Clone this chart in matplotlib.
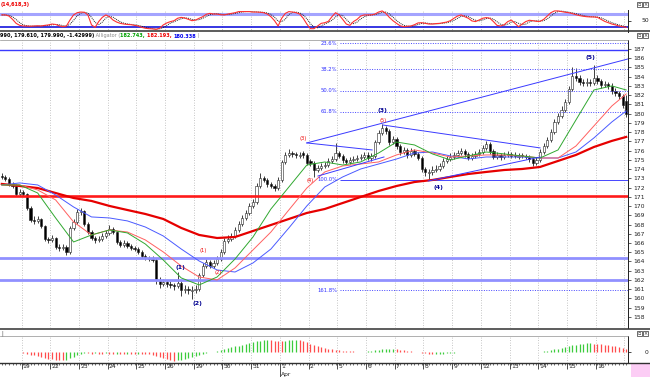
import numpy as np
import pandas as pd
import matplotlib
matplotlib.use("Agg")
import matplotlib.pyplot as plt
from matplotlib.patches import Rectangle
from matplotlib.lines import Line2D

W, H = 650, 377

# --- candles (8 per day) ---
opens = [173.30, 173.15, 172.93, 172.39, 172.17, 171.30, 171.52, 171.30, 169.79, 168.49,
         168.38, 168.60, 167.84, 166.44, 166.33, 166.54, 165.57, 165.46, 165.57, 165.03,
         167.62, 168.27, 169.36, 169.47, 168.06, 167.19, 166.54, 166.33, 166.44, 166.76,
         167.09, 167.52, 167.19, 166.11, 165.79, 166.00, 165.68, 165.46, 165.35, 165.03,
         164.60, 164.38, 164.27, 164.16, 162.00, 161.57, 161.78, 161.57, 161.46, 161.35,
         161.68, 160.92, 161.03, 160.80, 160.92, 161.03, 162.54, 163.51, 163.95, 163.51,
         163.84, 164.27, 165.03, 166.22, 166.44, 166.76, 167.41, 168.06, 168.71, 169.25,
         170.01, 170.44, 172.17, 173.04, 172.82, 172.39, 172.17, 171.95, 172.82, 174.77,
         175.53, 175.74, 175.64, 175.40, 175.70, 175.53, 174.85, 174.66, 173.90, 174.12,
         174.34, 174.45, 174.88, 175.09, 175.74, 175.42, 174.99, 174.77, 174.99, 175.09,
         175.20, 175.31, 175.53, 175.20, 175.42, 176.93, 177.91, 178.45, 178.12, 176.93,
         177.26, 176.50, 175.85, 176.07, 175.53, 175.96, 175.64, 175.20, 174.01, 173.55,
         173.69, 173.90, 174.01, 174.34, 174.88, 175.09, 175.31, 175.53, 175.74, 175.96,
         175.64, 175.20, 175.42, 175.64, 175.85, 176.28, 176.72, 175.96, 175.31, 175.53,
         175.31, 175.53, 175.64, 175.55, 175.30, 175.50, 175.42, 175.31, 175.09, 174.66,
         174.99, 175.85, 176.50, 177.15, 178.02, 179.10, 179.75, 180.40, 181.26, 182.67,
         184.08, 183.86, 183.43, 183.32, 183.43, 183.32, 183.86, 183.54, 183.10, 183.21,
         183.00, 182.46, 182.24, 181.91, 181.42]
highs = [173.55, 173.40, 173.10, 172.60, 172.35, 171.85, 171.75, 171.45, 169.95, 168.95,
         168.95, 168.75, 168.00, 166.70, 166.90, 166.70, 165.85, 165.90, 165.75, 167.85,
         168.55, 169.70, 169.80, 169.60, 168.25, 167.40, 166.80, 166.75, 167.10, 167.45,
         167.90, 167.75, 167.35, 166.35, 166.30, 166.25, 165.90, 165.70, 165.55, 165.25,
         164.85, 164.60, 164.55, 164.35, 162.30, 162.15, 162.00, 161.85, 161.70, 162.90,
         161.90, 161.40, 161.30, 161.35, 161.45, 162.80, 163.80, 164.30, 164.20, 164.15,
         164.60, 165.35, 166.50, 166.85, 167.10, 167.75, 168.40, 169.05, 169.60, 170.35,
         170.80, 172.45, 173.60, 173.30, 173.05, 172.65, 172.40, 173.10, 175.00, 175.85,
         176.20, 176.00, 175.90, 175.85, 175.95, 175.75, 175.10, 174.85, 174.45, 174.65,
         174.80, 175.20, 175.45, 176.80, 176.00, 175.65, 175.20, 175.30, 175.40, 175.55,
         175.65, 175.90, 175.80, 175.75, 177.20, 178.20, 178.85, 178.70, 178.30, 177.60,
         177.45, 176.70, 176.40, 176.30, 176.30, 176.20, 175.85, 175.40, 174.25, 174.00,
         174.30, 174.40, 174.70, 175.20, 175.45, 175.70, 175.90, 176.10, 176.30, 176.20,
         175.85, 175.75, 176.00, 176.20, 176.60, 177.05, 176.95, 176.20, 175.90, 175.75,
         175.85, 176.00, 175.90, 175.80, 175.70, 175.75, 175.65, 175.50, 175.30, 175.30,
         176.15, 176.85, 177.45, 178.35, 179.45, 180.10, 180.80, 181.60, 183.00, 185.05,
         184.90, 184.15, 183.75, 183.85, 183.80, 185.30, 184.20, 183.80, 183.55, 183.45,
         183.30, 182.75, 182.50, 182.10, 181.99]
lows = [172.95, 172.70, 172.20, 171.95, 171.05, 171.10, 171.05, 169.55, 168.25, 168.10,
        168.20, 167.60, 166.20, 166.05, 166.10, 165.35, 165.15, 165.25, 164.70, 164.85,
        167.45, 168.10, 169.05, 167.85, 166.95, 166.30, 166.05, 166.10, 166.20, 166.55,
        166.90, 166.95, 165.85, 165.55, 165.60, 165.45, 165.25, 165.10, 164.80, 164.40,
        164.15, 164.05, 163.95, 161.60, 161.10, 161.30, 161.20, 161.10, 160.95, 161.10,
        160.30, 160.60, 160.50, 159.95, 160.55, 160.85, 162.30, 163.25, 163.25, 163.30,
        163.60, 164.05, 164.85, 165.95, 166.20, 166.55, 167.20, 167.85, 168.50, 169.05,
        169.80, 170.25, 171.95, 172.55, 172.10, 171.90, 171.65, 171.75, 172.65, 174.55,
        175.30, 175.35, 175.25, 175.15, 175.25, 174.40, 174.35, 173.10, 173.65, 173.90,
        174.10, 174.20, 174.65, 174.85, 175.15, 174.70, 174.50, 174.55, 174.75, 174.85,
        174.95, 175.05, 174.95, 174.90, 175.20, 176.70, 177.70, 177.85, 176.60, 176.70,
        176.20, 175.55, 175.60, 175.25, 175.30, 175.40, 174.95, 173.70, 173.30, 172.90,
        173.40, 173.65, 173.80, 174.10, 174.65, 174.85, 175.05, 175.30, 175.50, 175.35,
        174.95, 174.95, 175.20, 175.40, 175.60, 176.05, 175.65, 175.05, 175.05, 175.00,
        175.05, 175.30, 175.15, 175.15, 175.05, 175.15, 175.05, 174.80, 174.30, 174.45,
        174.75, 175.60, 176.30, 176.95, 177.80, 178.85, 179.50, 180.15, 181.00, 182.40,
        183.55, 183.10, 182.95, 183.00, 183.00, 183.05, 183.25, 182.75, 182.85, 182.65,
        182.15, 181.90, 181.55, 180.65, 179.61]
closes = [173.15, 172.93, 172.39, 172.17, 171.30, 171.52, 171.30, 169.79, 168.49, 168.38,
          168.60, 167.84, 166.44, 166.33, 166.54, 165.57, 165.46, 165.57, 165.03, 167.62,
          168.27, 169.36, 169.47, 168.06, 167.19, 166.54, 166.33, 166.44, 166.76, 167.09,
          167.52, 167.19, 166.11, 165.79, 166.00, 165.68, 165.46, 165.35, 165.03, 164.60,
          164.38, 164.27, 164.16, 162.00, 161.57, 161.78, 161.57, 161.46, 161.35, 161.68,
          160.92, 161.03, 160.92, 160.92, 161.03, 162.54, 163.51, 163.95, 163.51, 163.84,
          164.27, 165.03, 166.22, 166.44, 166.76, 167.41, 168.06, 168.71, 169.25, 170.01,
          170.44, 172.17, 173.04, 172.82, 172.39, 172.17, 171.95, 172.82, 174.77, 175.53,
          175.74, 175.64, 175.53, 175.53, 175.53, 174.66, 174.66, 173.90, 174.12, 174.34,
          174.45, 174.88, 175.09, 175.74, 175.42, 174.99, 174.77, 174.99, 175.09, 175.20,
          175.31, 175.53, 175.20, 175.42, 176.93, 177.91, 178.45, 178.12, 176.93, 177.26,
          176.50, 175.85, 176.07, 175.53, 175.96, 175.64, 175.20, 174.01, 173.69, 173.69,
          173.90, 174.01, 174.34, 174.88, 175.09, 175.31, 175.53, 175.74, 175.96, 175.64,
          175.20, 175.42, 175.64, 175.85, 176.28, 176.72, 175.96, 175.31, 175.53, 175.31,
          175.53, 175.64, 175.42, 175.42, 175.42, 175.42, 175.31, 175.09, 174.66, 174.99,
          175.85, 176.50, 177.15, 178.02, 179.10, 179.75, 180.40, 181.26, 182.67, 184.08,
          183.86, 183.43, 183.32, 183.43, 183.32, 183.86, 183.54, 183.10, 183.21, 183.00,
          182.46, 182.24, 181.91, 180.94, 179.99]

# --- moving averages, read every 5 candles ---
ma_idx = list(range(0, 171, 5)) + [174]
lips = [172.28, 172.28, 171.41, 168.71, 166.11, 166.87, 167.41, 167.09, 165.89, 164.16,
        162.22, 161.46, 162.32, 164.27, 166.65, 169.68, 172.06, 174.44, 174.77, 174.44,
        174.77, 175.74, 176.93, 176.61, 175.64, 174.99, 175.42, 175.85, 175.64, 175.42,
        175.20, 176.07, 179.32, 182.56, 183.00, 182.56]
teeth = [172.28, 172.28, 171.74, 170.66, 168.28, 166.87, 167.41, 167.19, 166.33, 165.03,
         163.51, 162.32, 162.00, 163.30, 165.25, 167.19, 169.58, 171.95, 173.69, 174.34,
         174.55, 174.77, 175.53, 176.07, 175.74, 175.31, 175.42, 175.53, 175.53, 175.42,
         175.20, 175.20, 176.50, 178.67, 180.83, 182.13]
jaw = [172.28, 172.50, 172.28, 171.20, 169.90, 168.82, 168.71, 168.39, 167.73, 166.76,
       165.35, 164.05, 163.08, 162.86, 163.84, 165.35, 167.63, 170.01, 172.06, 173.15,
       174.01, 174.55, 175.09, 175.74, 175.85, 175.42, 175.09, 175.31, 175.31, 175.31,
       175.20, 175.20, 175.85, 177.37, 179.10, 180.29]
ma_long = [172.39, 172.17, 171.95, 171.41, 170.87, 170.55, 170.01, 169.57, 169.14, 168.60,
           167.63, 166.87, 166.54, 166.65, 167.30, 167.95, 168.60, 169.25, 169.68, 170.33,
           170.98, 171.63, 172.17, 172.60, 172.82, 173.15, 173.47, 173.69, 173.90, 174.01,
           174.23, 174.88, 175.53, 176.39, 177.05, 177.48]

# --- stochastic (top) and histogram (bottom) ---
stoch_k = [76, 76, 71, 56, 38, 29, 26, 26, 25, 26,
           27, 26, 29, 31, 35, 33, 27, 23, 26, 53,
           76, 86, 89, 88, 76, 31, 20, 46, 65, 76,
           68, 53, 44, 38, 35, 33, 32, 29, 26, 20,
           16, 14, 13, 11, 16, 31, 40, 46, 50, 61,
           65, 62, 56, 50, 53, 61, 68, 79, 83, 80,
           80, 77, 76, 80, 83, 86, 91, 91, 91, 91,
           89, 89, 88, 86, 80, 68, 50, 26, 61, 83,
           91, 89, 86, 80, 61, 35, 14, 14, 26, 38,
           41, 47, 68, 86, 76, 56, 35, 29, 46, 56,
           71, 76, 76, 76, 80, 89, 94, 83, 65, 50,
           38, 27, 23, 25, 26, 32, 40, 41, 38, 35,
           35, 37, 38, 41, 44, 50, 61, 71, 76, 68,
           61, 49, 46, 53, 61, 64, 61, 46, 29, 26,
           32, 46, 53, 38, 23, 35, 46, 52, 50, 47,
           47, 56, 71, 86, 94, 94, 91, 88, 86, 82,
           77, 73, 70, 68, 67, 67, 65, 56, 47, 41,
           35, 31, 26, 23, 20]
ao = [0.5, 0.6, 0.6, 0.5, 0.3, 0.1, -0.8, -1.5, -2.3, -3.2,
      -4.0, -5.0, -5.8, -6.5, -7.2, -7.6, -7.9, -8.1, -7.5, -6.2,
      -4.6, -3.0, -1.5, -1.0, -1.2, -1.3, -1.1, -1.3, -1.4, -1.2,
      -1.4, -1.5, -1.3, -1.5, -1.6, -1.4, -1.6, -1.7, -1.6, -1.8,
      -1.9, -2.0, -2.5, -3.3, -4.5, -5.6, -6.7, -7.8, -8.4, -8.2,
      -7.6, -6.8, -5.9, -5.0, -4.0, -2.9, -2.0, -1.0, -0.2, 0.5,
      1.2, 2.0, 3.0, 4.0, 5.0, 5.8, 6.6, 7.4, 8.3, 9.1,
      10.0, 10.8, 11.4, 11.9, 12.2, 11.8, 11.4, 11.1, 11.0, 11.5,
      11.9, 12.2, 12.3, 11.8, 10.8, 9.8, 8.6, 7.5, 6.3, 5.2,
      4.2, 3.3, 2.8, 2.4, 2.0, 1.7, 1.4, 1.1, 0.9, 0.6,
      0.4, 0.7, 1.1, 1.5, 2.0, 2.4, 2.8, 3.1, 3.4, 3.6,
      3.3, 2.7, 2.0, 1.4, 0.8, 0.3, -0.2, -0.6, -1.2, -1.6,
      -1.9, -1.7, -1.5, -1.3, -1.0, -0.7, -0.4, -0.2, 0.2, 0.4,
      0.3, 0.2, 0.4, 0.5, 0.6, 0.7, 0.6, 0.4, 0.3, 0.2,
      0.1, 0.2, 0.1, 0.0, 0.1, 0.2, 0.1, 0.0, -0.2, 0.1,
      0.5, 1.0, 1.5, 2.1, 2.8, 3.6, 4.5, 5.4, 6.3, 7.0,
      7.7, 8.2, 8.6, 8.8, 8.9, 8.6, 8.4, 8.0, 7.6, 7.2,
      6.7, 6.2, 5.5, 4.6, 3.5]

day_labels = ["19", "22", "23", "24", "25", "26", "29", "30", "31", "1", "2",
              "5", "6", "7", "8", "9", "12", "13", "14", "15", "16"]
first_day = 5.5      # index of first day boundary
per_day = 8
month_label = "Apr"
month_day = 9        # position of "1" in day_labels

# levels drawn on the chart
blue_top = 186.84
red_level = 171.10
support_levels = [164.33, 161.97]
fib_high, fib_low = 192.17, 172.82
fib_levels = [0.236, 0.382, 0.5, 0.618, 1.0, 1.618]
fib_names = ["23.6%", "38.2%", "50.0%", "61.8%", "100.0%", "161.8%"]
fib_start = 94.2
trend_lines = [[(85.0, 176.83), (174.5, 185.92)],
               [(85.0, 176.83), (103.2, 176.07)],
               [(88.1, 173.25), (106.5, 175.31)],
               [(106.2, 178.77), (150.0, 176.29)],
               [(118.8, 172.71), (150.0, 175.31)]]
waves_blue = [("(1)", 49.7, 163.3), ("(2)", 54.4, 159.5), ("(3)", 106.2, 180.3),
              ("(4)", 121.6, 172.06), ("(5)", 163.9, 186.13)]
waves_red = [("(1)", 56.1, 165.14), ("(2)", 60.2, 162.86), ("(3)", 83.9, 177.26),
             ("(4)", 86.0, 172.71), ("(5)", 106.2, 179.21)]

N = len(closes)
x = np.arange(N)


def rect(x0, y0, x1, y1):
    return [x0 / W, 1 - y1 / H, (x1 - x0) / W, (y1 - y0) / H]


def fx(px):
    return px / W


def fy(py):
    return 1 - py / H


def day_grid(ax):
    for k in range(len(day_labels) + 1):
        ax.axvline(first_day + per_day * k, color='#b4b4b4', lw=0.6,
                   ls=(0, (1, 2)), zorder=0)


def clean(ax):
    ax.set_xlim(-0.5, N - 0.5)
    ax.set_xticks([])
    for s in ['left', 'top', 'bottom']:
        ax.spines[s].set_visible(False)
    ax.spines['right'].set_color('#202020')
    ax.spines['right'].set_linewidth(0.7)


fig = plt.figure(figsize=(W / 100, H / 100), dpi=100)
fig.patch.set_facecolor('white')

# ===== stochastic panel =====
ax_o = fig.add_axes(rect(0, 9.6, 628, 31.8))
clean(ax_o)
ax_o.set_ylim(0, 100)
day_grid(ax_o)
ax_o.axhline(80, color='#a4a4ff', lw=2.2)
ax_o.axhline(20, color='#1414dd', lw=1.2)
stoch_d = pd.Series(stoch_k).rolling(3, min_periods=1).mean()
ax_o.plot(x, stoch_d, color='#202020', lw=0.7, ls=(0, (1, 1)))
ax_o.plot(x, stoch_k, color='#ff3030', lw=0.8)
ax_o.yaxis.tick_right()
ax_o.set_yticks([50])
ax_o.set_yticklabels([])
ax_o.tick_params(axis='y', length=2, width=0.5)
fig.text(fx(642), fy(20.7), "50", fontsize=4.3, va='center', ha='left', color='#202020')

# ===== main price panel =====
ax = fig.add_axes(rect(0, 40, 628, 328))
clean(ax)
ax.spines['top'].set_visible(True)
ax.spines['top'].set_color('#909090')
ax.spines['top'].set_linewidth(0.5)
ax.set_ylim(156.80, 187.97)
day_grid(ax)

o = np.array(opens)
c = np.array(closes)
ax.vlines(x, lows, highs, color='#202020', lw=0.6, zorder=2)
body_lo = np.minimum(o, c)
body_h = np.maximum(np.abs(c - o), 0.05)
faces = ['white' if cc >= oo else 'black' for oo, cc in zip(o, c)]
ax.bar(x, body_h, bottom=body_lo, width=0.62, color=faces,
       edgecolor='#202020', linewidth=0.4, zorder=3)

ax.axhline(blue_top, color='#3b3bff', lw=1.0, zorder=4)
ax.axhline(red_level, color='#ff1a1a', lw=1.9, zorder=4)
for lv in support_levels:
    ax.axhline(lv, color='#9090ff', lw=2.0, zorder=4)

ax.plot(ma_idx, ma_long, color='#e60000', lw=1.6, zorder=5)
ax.plot(ma_idx, jaw, color='#4a5aff', lw=0.7, zorder=5)
ax.plot(ma_idx, teeth, color='#ff6060', lw=0.7, zorder=5)
ax.plot(ma_idx, lips, color='#30a830', lw=0.7, zorder=5)

for lvl, name in zip(fib_levels, fib_names):
    p = fib_low + (1 - lvl) * (fib_high - fib_low)
    ls = '-' if lvl == 1.0 else (0, (1, 1.5))
    ax.hlines(p, fib_start, N - 0.5, colors='#4646ff', lw=0.7, linestyles=ls, zorder=4)
    ax.text(fib_start - 0.8, p, name, ha='right', va='center', fontsize=3.8,
            color='#3030ff', zorder=6)

for (x0, y0), (x1, y1) in trend_lines:
    ax.plot([x0, x1], [y0, y1], color='#3a3aff', lw=0.7, zorder=5)

for s, xi, yi in waves_blue:
    ax.text(xi, yi, s, fontsize=4.5, color='#000090', ha='center', va='center',
            fontweight='bold', zorder=7)
for s, xi, yi in waves_red:
    ax.text(xi, yi, s, fontsize=3.7, color='#ee0000', ha='center', va='center', zorder=7)

ax.yaxis.tick_right()
ax.set_yticks(range(158, 188))
ax.tick_params(axis='y', labelsize=4.3, length=2, width=0.5, pad=1.5, colors='#202020')

# ===== histogram panel =====
ax_h = fig.add_axes(rect(0, 336, 628, 362.7))
clean(ax_h)
ax_h.set_ylim(-10.4, 16.3)
day_grid(ax_h)
ao_arr = np.array(ao)
rising = np.concatenate([[True], np.diff(ao_arr) >= 0])
cols = np.where(rising, '#3ccc3c', '#ff4c4c')
ax_h.vlines(x, 0, ao_arr, colors=cols, lw=0.9)
ax_h.yaxis.tick_right()
ax_h.set_yticks([0])
ax_h.set_yticklabels([])
ax_h.tick_params(axis='y', length=2, width=0.5)
fig.text(fx(645), fy(353), "0", fontsize=4.3, va='center', ha='left', color='#202020')

# ===== date axis =====
ax_d = fig.add_axes(rect(0, 362.7, 628, 377))
ax_d.set_xlim(-0.5, N - 0.5)
ax_d.set_ylim(0, 1)
ax_d.axis('off')
ax_d.vlines(x, 0.86, 1.0, color='#303030', lw=0.5)
for k, lab in enumerate(day_labels):
    pos = first_day + per_day * k
    ax_d.vlines(pos, 0.55 if k != month_day else 0.0, 1.0, color='#303030', lw=0.6)
    ax_d.text(pos + 0.35, 0.70, lab, fontsize=4.3, ha='left', va='center', color='#202020')
ax_d.text(first_day + per_day * month_day + 0.3, 0.2, month_label, fontsize=4.3,
          ha='left', va='center', color='#202020')

# ===== separators, headers, icons =====
for yy in (31.0, 329.0):
    fig.add_artist(Line2D([0, 1], [fy(yy)] * 2, color='#303030', lw=1.1))
fig.add_artist(Line2D([0, fx(628)], [fy(336)] * 2, color='#909090', lw=0.5))
fig.add_artist(Line2D([0, fx(650)], [fy(362.7)] * 2, color='#303030', lw=1.0))
fig.add_artist(Rectangle((fx(631), fy(377)), 19 / W, 14.3 / H, transform=fig.transFigure,
                         facecolor='#fccdf5', edgecolor='none'))

fig.text(fx(1), fy(4.5), "(14,618,3)", fontsize=3.6, color='#ee0000',
         fontweight='bold', va='center', ha='left')
parts = [("990, 179.610, 179.990, -1.42999)", '#000000', 'bold'),
         (" Alligator (", '#8a8a8a', 'normal'),
         ("182.743, ", '#00a000', 'bold'),
         ("182.193, ", '#ee0000', 'bold'),
         ("180.338", '#0000ee', 'bold'),
         (" )", '#8a8a8a', 'normal')]
prev = fig.text(fx(0), fy(36), parts[0][0], fontsize=3.6, color=parts[0][1],
                fontweight=parts[0][2], va='center', ha='left')
for s, col, wt in parts[1:]:
    prev = ax.annotate(s, xy=(1, 0.5), xycoords=prev, va='center', ha='left',
                       fontsize=3.6, color=col, fontweight=wt, annotation_clip=False)
fig.text(fx(1.5), fy(333), "|", fontsize=3.5, color='#404040', va='center', ha='left')

for iy in (4.5, 35.5, 333.5):
    for ix in (637, 643):
        fig.add_artist(Rectangle((fx(ix), fy(iy + 2.5)), 5 / W, 5 / H,
                                 transform=fig.transFigure, fill=False,
                                 edgecolor='#303030', lw=0.5))
    fig.text(fx(645.5), fy(iy), "×", fontsize=3.5, ha='center', va='center', color='#202020')
    fig.text(fx(639.5), fy(iy), "▫", fontsize=3.5, ha='center', va='center', color='#202020')

fig.savefig("out.png", dpi=100, facecolor='white')
